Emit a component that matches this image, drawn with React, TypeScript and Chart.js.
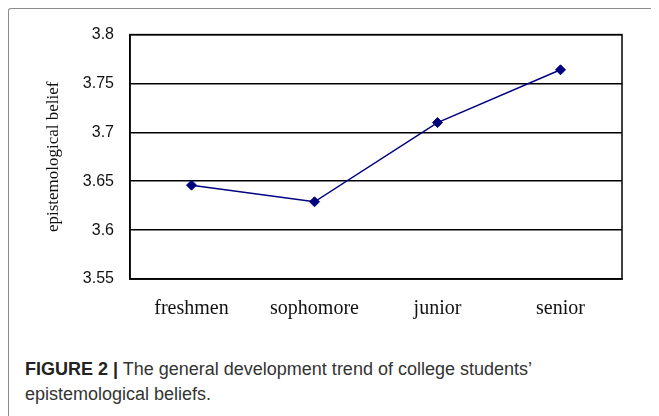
import React, { useEffect, useRef } from "react";
import { Chart, registerables } from "chart.js";

Chart.register(...registerables);

const categories = ["freshmen", "sophomore", "junior", "senior"];
const beliefValues = [3.646, 3.629, 3.71, 3.764];
const yTicks = [3.55, 3.6, 3.65, 3.7, 3.75, 3.8];
const yTitle = "epistemological belief";

const framePlugin = {
  id: "frame",
  afterDatasetsDraw(chart: any) {
    const { ctx, chartArea } = chart;
    ctx.save();
    ctx.strokeStyle = "#000";
    ctx.lineWidth = 1.5;
    ctx.strokeRect(chartArea.left, chartArea.top, chartArea.right - chartArea.left, chartArea.bottom - chartArea.top);
    ctx.restore();
  },
};

export default function App() {
  const ref = useRef<HTMLCanvasElement | null>(null);

  useEffect(() => {
    if (!ref.current) return;
    const chart = new Chart(ref.current, {
      type: "line",
      data: {
        labels: categories,
        datasets: [
          {
            data: beliefValues,
            borderColor: "#000080",
            backgroundColor: "#000080",
            borderWidth: 1.5,
            pointStyle: "rectRot",
            pointRadius: 5,
            pointHoverRadius: 5,
            pointBorderWidth: 1,
            tension: 0,
          },
        ],
      },
      options: {
        animation: false,
        responsive: true,
        maintainAspectRatio: false,
        layout: { padding: { left: 0, top: 25, right: 27, bottom: 0 } },
        plugins: { legend: { display: false }, tooltip: { enabled: false } },
        scales: {
          x: {
            offset: true,
            grid: { display: false, drawTicks: false },
            border: { display: true, color: "#000", width: 1.5 },
            ticks: {
              color: "#111",
              padding: 18,
              font: { family: "'Liberation Serif', 'Times New Roman', serif", size: 20 },
            },
            afterFit(scale: any) {
              scale.height = 60;
            },
          },
          y: {
            min: 3.55,
            max: 3.8,
            afterBuildTicks(scale: any) {
              scale.ticks = yTicks.map((v) => ({ value: v }));
            },
            grid: { color: "#000", lineWidth: 1.5, drawTicks: false },
            border: { display: true, color: "#000", width: 1.5 },
            ticks: {
              color: "#111",
              padding: 16,
              font: { family: "'Liberation Sans', Arial, sans-serif", size: 16 },
              callback: (v: any) => String(v),
            },
            title: {
              display: true,
              text: yTitle,
              color: "#111",
              padding: { top: 34, bottom: 0 },
              font: { family: "'Liberation Serif', 'Times New Roman', serif", size: 17 },
            },
            afterFit(scale: any) {
              scale.width = 121;
            },
          },
        },
      },
      plugins: [framePlugin],
    });
    return () => chart.destroy();
  }, []);

  return (
    <div
      style={{
        position: "relative",
        width: 651,
        height: 408,
        boxSizing: "border-box",
        borderTop: "1px solid #8c8c8c",
        borderLeft: "1px solid #8c8c8c",
        borderTopLeftRadius: 3,
        overflow: "hidden",
        background: "#fff",
      }}
    >
      <div style={{ position: "absolute", left: 0, top: 0, width: 640, height: 330 }}>
        <canvas ref={ref} />
      </div>
      <div
        style={{
          position: "absolute",
          left: 16,
          top: 348,
          width: 620,
          fontFamily: "'Liberation Sans', Arial, Helvetica, sans-serif",
          fontSize: 18,
          lineHeight: "25px",
          color: "#333",
        }}
      >
        <span style={{ fontWeight: "bold", color: "#222" }}>FIGURE 2 |</span> The general development trend of college students’
        <br />
        epistemological beliefs.
      </div>
    </div>
  );
}
